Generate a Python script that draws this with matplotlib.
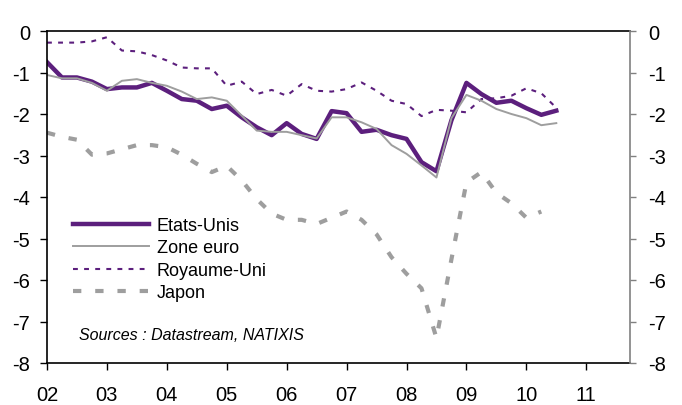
import numpy as np
import matplotlib
matplotlib.use("Agg")
from matplotlib import pyplot as plt

plt.rcParams['font.family'] = ['Liberation Sans', 'DejaVu Sans']
plt.rcParams['axes.unicode_minus'] = False
plt.rcParams['lines.scale_dashes'] = False

# quarterly data, 2002T1 -> 2010T3
etats_unis = [-0.75, -1.12, -1.12, -1.22, -1.40, -1.36, -1.36, -1.25, -1.44, -1.64,
              -1.68, -1.88, -1.80, -2.08, -2.32, -2.51, -2.22, -2.48, -2.60, -1.93,
              -1.98, -2.43, -2.38, -2.51, -2.60, -3.16, -3.38, -2.15, -1.25, -1.52,
              -1.73, -1.68, -1.86, -2.02, -1.92]
zone_euro = [-1.06, -1.14, -1.14, -1.25, -1.44, -1.20, -1.16, -1.25, -1.32, -1.46,
             -1.64, -1.60, -1.68, -2.04, -2.40, -2.43, -2.43, -2.51, -2.59, -2.08,
             -2.08, -2.20, -2.36, -2.75, -2.96, -3.24, -3.53, -2.10, -1.54, -1.68,
             -1.88, -2.00, -2.10, -2.27, -2.22]
royaume_uni = [-0.28, -0.28, -0.28, -0.25, -0.15, -0.47, -0.49, -0.58, -0.71, -0.88,
               -0.90, -0.90, -1.32, -1.22, -1.52, -1.42, -1.56, -1.28, -1.44, -1.46,
               -1.40, -1.24, -1.44, -1.68, -1.76, -2.05, -1.90, -1.92, -1.96, -1.64,
               -1.62, -1.56, -1.38, -1.50, -1.85]
japon = [-2.45, -2.55, -2.62, -2.98, -2.95, -2.85, -2.75, -2.75, -2.80, -2.98,
         -3.20, -3.40, -3.25, -3.60, -4.05, -4.40, -4.55, -4.55, -4.65, -4.50,
         -4.35, -4.55, -4.90, -5.45, -5.85, -6.20, -7.40, -5.50, -3.65, -3.40,
         -3.90, -4.15, -4.50, -4.35]

annees = list(range(2002, 2012))
annee_labels = ['02', '03', '04', '05', '06', '07', '08', '09', '10', '11']
y_ticks = [0, -1, -2, -3, -4, -5, -6, -7, -8]

violet = '#5C1F7D'
gris = '#9E9E9E'

x_us = 2002 + np.arange(len(etats_unis)) / 4.0
x_jp = 2002 + np.arange(len(japon)) / 4.0

fig = plt.figure(figsize=(6.82, 4.06), dpi=100)
ax = fig.add_axes([47 / 682, 1 - 364 / 406, 583 / 682, 332 / 406])

l_jp, = ax.plot(x_jp, japon, color=gris, lw=3.0, dashes=(6, 10), solid_capstyle='butt', label='Japon')
l_uk, = ax.plot(x_us, royaume_uni, color=violet, lw=1.5, dashes=(3.5, 4.5), label='Royaume-Uni')
l_us, = ax.plot(x_us, etats_unis, color=violet, lw=3.2, label='Etats-Unis')
l_eu, = ax.plot(x_us, zone_euro, color=gris, lw=1.4, label='Zone euro')

ax.set_xlim(2002, 2011.73)
ax.set_ylim(-8, 0)
ax.set_xticks(annees)
ax.set_xticklabels(annee_labels)
ax.set_yticks(y_ticks)
ax.set_yticklabels([str(v) for v in y_ticks])
ax.tick_params(axis='x', direction='out', length=5, width=1, labelsize=14.5, pad=10.5)
ax.tick_params(axis='y', direction='out', length=5, width=1, labelsize=14.5, pad=7)
ax.spines['right'].set_visible(False)
for s in ['left', 'bottom', 'top']:
    ax.spines[s].set_color('black')
    ax.spines[s].set_linewidth(1.2)

# axe de droite
ax2 = ax.twinx()
ax2.set_ylim(-8, 0)
ax2.set_yticks(y_ticks)
ax2.set_yticklabels([str(v) for v in y_ticks])
ax2.tick_params(axis='y', direction='out', length=4, width=1, color='#808080', labelsize=14.5, pad=9)
for s in ['left', 'bottom', 'top']:
    ax2.spines[s].set_visible(False)
ax2.spines['right'].set_color('#808080')
ax2.spines['right'].set_linewidth(1.2)

ax.legend(handles=[l_us, l_eu, l_uk, l_jp], loc='upper left',
          bbox_to_anchor=((73 - 47) / 583, 1 - (218 - 32) / 332),
          frameon=False, fontsize=13, handlelength=4.2, handletextpad=0.45,
          labelspacing=0.3, borderpad=0, borderaxespad=0)

ax.text((79 - 47) / 583, 1 - (335 - 32) / 332, 'Sources : Datastream, NATIXIS',
        transform=ax.transAxes, fontsize=11.5, style='italic', va='center', ha='left')

fig.savefig('out.png', dpi=100)
